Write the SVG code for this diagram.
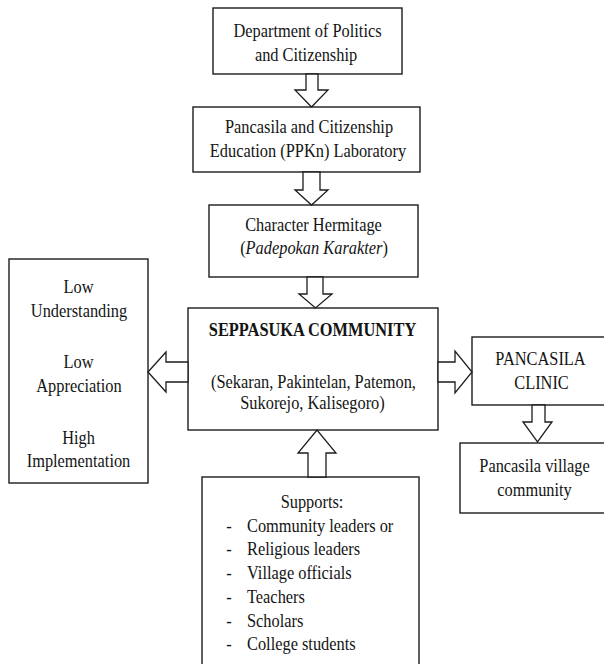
<svg xmlns="http://www.w3.org/2000/svg" width="604" height="664" viewBox="0 0 604 664">
<style>
.box{fill:#fff;stroke:#1c1c1c;stroke-width:1.4}
.arr{fill:#fff;stroke:#1c1c1c;stroke-width:1.3;stroke-linejoin:miter}
text{font-family:"Liberation Serif","Times New Roman",serif;font-size:19px;fill:#141414}
.c{text-anchor:middle}
.b{font-weight:bold}
.i{font-style:italic}
</style>
<rect width="604" height="664" fill="#fff"/>
<g id="dept">
<rect class="box" x="213" y="8" width="189" height="66"/>
<text class="c" transform="translate(307.5 37) scale(0.862 1)">Department of Politics</text>
<text class="c" transform="translate(306 61) scale(0.862 1)">and Citizenship</text>
</g>
<g id="lab">
<rect class="box" x="193" y="107" width="227" height="65"/>
<text class="c" transform="translate(309 133) scale(0.862 1)">Pancasila and Citizenship</text>
<text class="c" transform="translate(308 157) scale(0.862 1)">Education (PPKn) Laboratory</text>
</g>
<g id="hermitage">
<rect class="box" x="209" y="205" width="209" height="72"/>
<text class="c" transform="translate(313.5 231) scale(0.862 1)">Character Hermitage</text>
<text class="c" transform="translate(314 254) scale(0.862 1)">(<tspan class="i">Padepokan Karakter</tspan>)</text>
</g>
<g id="seppasuka">
<rect class="box" x="188" y="308" width="250" height="122"/>
<text class="c b" transform="translate(312.5 336) scale(0.862 1)">SEPPASUKA COMMUNITY</text>
<text class="c" transform="translate(313.5 388) scale(0.862 1)">(Sekaran, Pakintelan, Patemon,</text>
<text class="c" transform="translate(312.5 409) scale(0.862 1)">Sukorejo, Kalisegoro)</text>
</g>
<g id="outcomes">
<rect class="box" x="9" y="259" width="139" height="224"/>
<text class="c" transform="translate(78.5 293) scale(0.862 1)">Low</text>
<text class="c" transform="translate(79 317) scale(0.862 1)">Understanding</text>
<text class="c" transform="translate(78.5 368) scale(0.862 1)">Low</text>
<text class="c" transform="translate(79 392) scale(0.862 1)">Appreciation</text>
<text class="c" transform="translate(78.5 444) scale(0.862 1)">High</text>
<text class="c" transform="translate(78.5 467) scale(0.862 1)">Implementation</text>
</g>
<g id="clinic">
<rect class="box" x="472" y="337" width="150" height="68"/>
<text class="c" transform="translate(540.5 365) scale(0.862 1)">PANCASILA</text>
<text class="c" transform="translate(541.5 389) scale(0.862 1)">CLINIC</text>
</g>
<g id="village">
<rect class="box" x="460" y="443" width="160" height="70"/>
<text class="c" transform="translate(534.5 472) scale(0.862 1)">Pancasila village</text>
<text class="c" transform="translate(534.5 496) scale(0.862 1)">community</text>
</g>
<g id="supports">
<rect class="box" x="202" y="477" width="217" height="200"/>
<text class="c" transform="translate(312 508) scale(0.862 1)">Supports:</text>
<text class="c" transform="translate(229 532) scale(0.862 1)">-</text>
<text transform="translate(247 532) scale(0.862 1)">Community leaders or</text>
<text class="c" transform="translate(229 555) scale(0.862 1)">-</text>
<text transform="translate(247 555) scale(0.862 1)">Religious leaders</text>
<text class="c" transform="translate(229 579) scale(0.862 1)">-</text>
<text transform="translate(247 579) scale(0.862 1)">Village officials</text>
<text class="c" transform="translate(229 603) scale(0.862 1)">-</text>
<text transform="translate(247 603) scale(0.862 1)">Teachers</text>
<text class="c" transform="translate(229 627) scale(0.862 1)">-</text>
<text transform="translate(247 627) scale(0.862 1)">Scholars</text>
<text class="c" transform="translate(229 650) scale(0.862 1)">-</text>
<text transform="translate(247 650) scale(0.862 1)">College students</text>
</g>
<g id="connectors">
<polygon class="arr" points="306,74 318,74 318,90 328,90 311.5,107 295,90 306,90"/>
<polygon class="arr" points="303,172 320,172 320,190 328,190 311.5,205 295,190 303,190"/>
<polygon class="arr" points="307,277 323,277 323,294 332,294 315.5,308 299,294 307,294"/>
<polygon class="arr" points="188,362 188,382 166,382 166,392 148,372 166,352 166,362"/>
<polygon class="arr" points="438,362 455,362 455,351 472,372 455,393 455,382 438,382"/>
<polygon class="arr" points="532,405 545,405 545,422 552,422 537.5,442 523,422 532,422"/>
<polygon class="arr" points="308,477 308,453 298,453 317,430 336,453 326,453 326,477"/>
</g>
</svg>
